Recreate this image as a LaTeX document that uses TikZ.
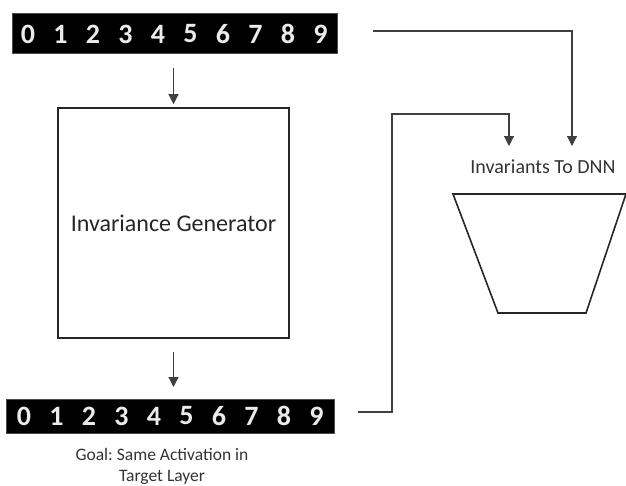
\documentclass[tikz,border=0pt]{standalone}
\usepackage{fontspec}
\setmainfont{Carlito}
\frenchspacing
\usetikzlibrary{arrows.meta}
\tikzset{
  strip/.style={fill=black, draw=black!70, minimum height=#1, inner sep=0pt, outer sep=0pt},
  digit/.style={text=white!92!black, font=\fontsize{28}{28}\selectfont\bfseries, inner sep=0pt},
  conn/.style={draw=black!75, line width=1.2pt, -{Triangle[length=10pt,width=10pt]}},
  genbox/.style={draw=black!85, line width=1.6pt, minimum width=231pt, minimum height=230pt, inner sep=0pt, font=\fontsize{24}{28}\selectfont, text=black!85},
  lbl/.style={font=\fontsize{#1}{21}\selectfont, text=black!80, align=center}
}
\begin{document}
\begin{tikzpicture}[x=1pt,y=-1pt]
\useasboundingbox (0,0) rectangle (626,485);
% top strip
\node[strip=40pt, minimum width=325pt] (top) at (174.5,33) {};
\foreach \d [count=\i from 0] in {0,...,9}
  \node[digit] (t\i) at (28+\i*32.5,34) {\d};
% generator
\node[genbox] (gen) at (173.5,223) {Invariance Generator};
% bottom strip
\node[strip=34pt, minimum width=328pt] (bot) at (170,416) {};
\foreach \d [count=\i from 0] in {0,...,9}
  \node[digit] (b\i) at (24+\i*32.5,416) {\d};
\node[lbl=17.5] (goal) at (162,466) {Goal: Same Activation in\\Target Layer};
% invariants label
\node[lbl=20] (inv) at (543,167) {Invariants To DNN};
% trapezoid (DNN)
\coordinate (tr1) at (453,194);
\coordinate (tr2) at (626,194);
\coordinate (tr3) at (586,313);
\coordinate (tr4) at (498,313);
\draw[black!85, line width=1.6pt] (tr1) -- (tr2) -- (tr3) -- (tr4) -- cycle;
% connectors
\draw[conn] ([yshift=-15pt]top.south -| gen.north) -- ([yshift=3pt]gen.north);
\draw[conn] ([yshift=-13pt]gen.south) -- ([yshift=12pt]bot.north -| gen.south);
\coordinate (c1) at (373,31);
\coordinate (c2) at (572,31);
\draw[conn] (c1) -- (c2) -- (572,146);
\coordinate (d1) at (358,412);
\coordinate (d2) at (392,412);
\coordinate (d3) at (392,114);
\coordinate (d4) at (509,114);
\draw[conn] (d1) -- (d2) -- (d3) -- (d4) -- (509,146);
\end{tikzpicture}
\end{document}
